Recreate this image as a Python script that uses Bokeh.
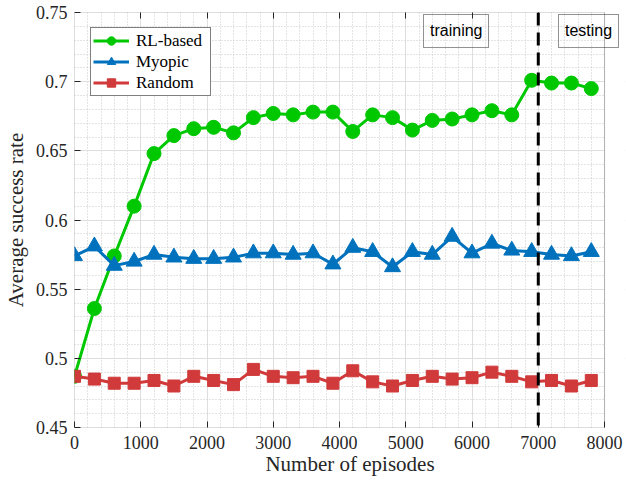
from bokeh.plotting import figure
from bokeh.models import (Span, FixedTicker, CustomJSTickFormatter, Range1d, Legend,
                          LegendItem, BoxAnnotation, LinearAxis)
from bokeh.embed import file_html
from bokeh.resources import INLINE

# ---- data ----
episodes = [0, 300, 600, 900, 1200, 1500, 1800, 2100, 2400, 2700, 3000, 3300, 3600, 3900,
            4200, 4500, 4800, 5100, 5400, 5700, 6000, 6300, 6600, 6900, 7200, 7500, 7800]
rl_based = [0.487, 0.536, 0.574, 0.610, 0.648, 0.661, 0.666, 0.667, 0.663, 0.674, 0.677,
            0.676, 0.678, 0.678, 0.664, 0.676, 0.674, 0.665, 0.672, 0.673, 0.676, 0.679,
            0.676, 0.701, 0.699, 0.699, 0.695]
myopic = [0.574, 0.581, 0.567, 0.570, 0.575, 0.573, 0.572, 0.572, 0.573, 0.576, 0.576,
          0.575, 0.576, 0.568, 0.580, 0.577, 0.566, 0.577, 0.575, 0.588, 0.576, 0.583,
          0.578, 0.577, 0.575, 0.574, 0.577]
random_ = [0.487, 0.485, 0.482, 0.482, 0.484, 0.480, 0.487, 0.484, 0.481, 0.492, 0.487,
           0.486, 0.487, 0.482, 0.491, 0.483, 0.480, 0.484, 0.487, 0.485, 0.486, 0.490,
           0.487, 0.483, 0.484, 0.480, 0.484]
x_ticks = [0, 1000, 2000, 3000, 4000, 5000, 6000, 7000, 8000]
y_ticks = [0.45, 0.5, 0.55, 0.6, 0.65, 0.7, 0.75]
x_lim = (0, 8000)
y_lim = (0.45, 0.75)
split_at = 7000
phase_labels = ["training", "testing"]

# ---- style ----
SERIF = "Liberation Serif"
SANS = "Liberation Sans"
AX = "#262626"
GREEN = "#00c800"
BLUE = "#0072bd"
RED = "#d13a3a"

# frame reaches a little past x=8000 so the "testing" box can overhang the axes box
FRAME_PX = 552.0
AXES_PX = 531.0
x_end = x_lim[1] * FRAME_PX / AXES_PX

x_minor = [v for v in range(0, 8001, 200)]
y_minor = [round(0.45 + 0.01 * i, 2) for i in range(31)]
xt = FixedTicker(ticks=x_ticks, minor_ticks=x_minor)
yt = FixedTicker(ticks=y_ticks, minor_ticks=y_minor)
yfmt = CustomJSTickFormatter(code="return String(Math.round(tick*100)/100)")

p = figure(width=626, height=480, x_range=Range1d(x_lim[0], x_end),
           y_range=Range1d(*y_lim), output_backend="svg", toolbar_location=None,
           min_border_left=73, min_border_right=1, min_border_top=12, min_border_bottom=53,
           background_fill_color="white", border_fill_color="white")
p.outline_line_color = None

for ax, tk in ((p.xaxis[0], xt), (p.yaxis[0], yt)):
    ax.ticker = tk
    ax.major_tick_in = 6
    ax.major_tick_out = 0
    ax.minor_tick_in = 0
    ax.minor_tick_out = 0
    ax.axis_line_color = None
    ax.major_tick_line_color = AX
    ax.major_label_text_font = SERIF
    ax.major_label_text_font_size = "18px"
    ax.major_label_text_font_style = "normal"
    ax.major_label_text_color = AX
    ax.axis_label_text_font = SERIF
    ax.axis_label_text_font_size = "21px"
    ax.axis_label_text_font_style = "normal"
    ax.axis_label_text_color = AX
p.yaxis[0].formatter = yfmt
p.xaxis[0].axis_label = "Number of episodes"
p.yaxis[0].axis_label = "Average success rate"
p.xaxis[0].major_label_standoff = 8
p.xaxis[0].axis_label_standoff = 0
p.yaxis[0].major_label_standoff = 7
p.yaxis[0].axis_label_standoff = 5

# mirrored inward tick marks along the top edge (no labels)
top_ax = LinearAxis(ticker=FixedTicker(ticks=x_ticks[1:-1]), major_tick_in=6,
                    major_tick_out=0, minor_tick_in=0, minor_tick_out=0,
                    axis_line_color=None, major_tick_line_color=AX,
                    major_label_text_font_size="0px", major_label_standoff=0,
                    formatter=CustomJSTickFormatter(code="return ''"))
p.add_layout(top_ax, "above")

for g, tk in ((p.xgrid[0], xt), (p.ygrid[0], yt)):
    g.ticker = tk
    g.grid_line_color = "#dedede"
    g.grid_line_width = 1
    g.minor_grid_line_color = "#c8c8c8"
    g.minor_grid_line_dash = "1 2"
    g.minor_grid_line_width = 1

# blank out grid beyond the axes box, then draw the axes box
p.add_layout(BoxAnnotation(left=x_lim[1], fill_color="white", fill_alpha=1.0,
                           line_alpha=0, level="glyph"))
p.add_layout(BoxAnnotation(left=x_lim[0], right=x_lim[1], bottom=y_lim[0], top=y_lim[1],
                           fill_alpha=0, line_color=AX, line_width=1))

# ---- series ----
p.line(episodes, rl_based, line_color=GREEN, line_width=3, legend_label="RL-based")
p.scatter(episodes, rl_based, marker="circle", size=14, fill_color=GREEN,
          line_color=GREEN, legend_label="RL-based")
p.line(episodes, myopic, line_color=BLUE, line_width=3, legend_label="Myopic")
p.scatter(episodes, myopic, marker="triangle", size=16, fill_color=BLUE,
          line_color=BLUE, legend_label="Myopic")
p.line(episodes, random_, line_color=RED, line_width=3, legend_label="Random")
p.scatter(episodes, random_, marker="square", size=12, fill_color=RED,
          line_color=RED, legend_label="Random")

p.add_layout(Span(location=split_at, dimension="height", line_color="black",
                  line_width=3, line_dash="13 7"))

lg = p.legend[0]
lg.location = (16, 331)
lg.label_text_font = SERIF
lg.label_text_font_size = "17px"
lg.label_text_color = "black"
lg.glyph_width = 36
lg.glyph_height = 21
lg.label_height = 21
lg.label_width = 72
lg.spacing = 0
lg.padding = 2
lg.margin = 0
lg.label_standoff = 7
lg.border_line_color = "black"
lg.border_line_width = 1
lg.background_fill_color = "white"
lg.background_fill_alpha = 1.0

# phase boxes: text-only legends (invisible, empty key renderer)
key = p.scatter(x=[], y=[], size=0, fill_alpha=0, line_alpha=0)
for txt, loc in zip(phase_labels, [(349, 379), (484, 379)]):
    p.add_layout(Legend(items=[LegendItem(label=txt, renderers=[key])], location=loc,
                        glyph_width=0, glyph_height=20, label_height=20, label_standoff=0,
                        padding=6, margin=0, spacing=0,
                        label_text_font=SANS, label_text_font_size="16px",
                        label_text_color="black", border_line_color=AX,
                        border_line_width=1, background_fill_alpha=0.0))

open("out.html", "w").write(file_html(p, INLINE))
